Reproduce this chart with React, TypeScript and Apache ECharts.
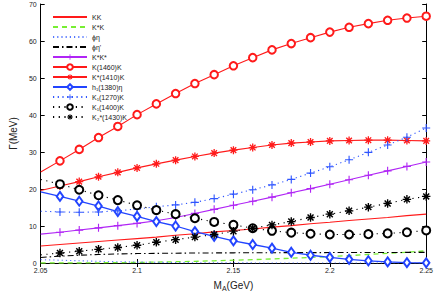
import React, { useEffect, useRef } from "react";
import * as echarts from "echarts";

const xs = [2.05, 2.06, 2.07, 2.08, 2.09, 2.1, 2.11, 2.12, 2.13, 2.14, 2.15, 2.16, 2.17, 2.18, 2.19, 2.2, 2.21, 2.22, 2.23, 2.24, 2.25];

const kk = [4.6, 5.0, 5.4, 5.8, 6.2, 6.6, 7.0, 7.5, 7.9, 8.4, 8.8, 9.2, 9.7, 10.1, 10.6, 11.0, 11.5, 11.9, 12.3, 12.8, 13.2];
const kstarK = [0, 0, 0, 0.05, 0.1, 0.15, 0.25, 0.35, 0.45, 0.6, 0.75, 0.9, 1.1, 1.3, 1.5, 1.75, 2.0, 2.3, 2.6, 2.9, 3.3];
const phiEta = [0.9, 0.75, 0.6, 0.45, 0.35, 0.25, 0.18, 0.12, 0.08, 0.05, 0.03, 0.02, 0.01, 0, 0, 0, 0, 0, 0, 0, 0];
const phiEtaP = [1.5, 1.85, 2.1, 2.3, 2.45, 2.55, 2.6, 2.65, 2.7, 2.72, 2.75, 2.77, 2.78, 2.8, 2.8, 2.82, 2.83, 2.84, 2.85, 2.86, 2.87];
const kstarKstar = [7.8, 8.3, 8.9, 9.5, 10.1, 10.7, 11.4, 12.3, 13.4, 14.5, 15.6, 16.7, 17.8, 19.0, 20.1, 21.3, 22.5, 23.7, 24.9, 26.1, 27.3];
const k1460 = [24.6, 27.6, 30.7, 33.9, 36.9, 40.1, 43.0, 45.8, 48.5, 50.9, 53.3, 55.5, 57.6, 59.3, 60.9, 62.4, 63.7, 64.7, 65.6, 66.2, 66.7];
const k1410 = [19.6, 20.8, 22.0, 23.3, 24.5, 25.7, 26.8, 27.8, 28.8, 29.7, 30.5, 31.2, 31.9, 32.4, 32.7, 33.0, 33.1, 33.2, 33.2, 33.1, 33.0];
const h1380 = [19.2, 18.0, 16.7, 15.4, 13.9, 12.6, 11.2, 10.0, 8.5, 7.2, 6.0, 5.0, 4.0, 2.9, 2.1, 1.5, 1.0, 0.6, 0.3, 0.1, 0.05];
const k1270 = [14.0, 13.8, 13.7, 13.8, 14.1, 14.6, 15.2, 15.7, 16.4, 17.4, 18.6, 19.8, 21.1, 22.6, 24.3, 26.0, 27.9, 29.9, 31.9, 34.0, 36.5];
const k1400 = [22.6, 21.3, 19.8, 18.3, 17.0, 15.6, 14.3, 13.2, 12.1, 11.1, 10.3, 9.4, 8.7, 8.2, 7.9, 7.7, 7.7, 7.8, 8.0, 8.3, 8.8];
const k1430 = [2.2, 2.7, 3.2, 3.7, 4.2, 4.8, 5.6, 6.3, 7.0, 7.7, 8.6, 9.4, 10.3, 11.2, 12.3, 13.2, 14.1, 15.1, 16.1, 17.2, 18.0];

const names = ["KK", "K*K", "ϕη", "ϕη'", "K*K*", "K(1460)K", "K*(1410)K", "h₁(1380)η", "K₁(1270)K", "K₁(1400)K", "K₂*(1430)K"];
const yTicks = [0, 10, 20, 30, 40, 50, 60, 70];
const xTickLabels = ["2.05", "2.1", "2.15", "2.2", "2.25"];

const PLUS = "path://M4.3,0H5.7V4.3H10V5.7H5.7V10H4.3V5.7H0V4.3H4.3Z";
const STAR =
  "path://M0,4.2H10V5.8H0Z M4.2,0H5.8V10H4.2Z M2.1,0.9L9.1,7.9L7.9,9.1L0.9,2.1Z M7.9,0.9L9.1,2.1L2.1,9.1L0.9,7.9Z";

function pts(vals: number[], firstNoSymbol: boolean) {
  return vals.map((v, i) =>
    firstNoSymbol && i === 0 ? { value: [xs[i], v], symbol: "none" } : { value: [xs[i], v] }
  );
}

export default function App() {
  const ref = useRef<HTMLDivElement>(null);
  useEffect(() => {
    if (!ref.current) return;
    const chart = echarts.init(ref.current, null, { renderer: "svg" });
    const font = "Liberation Sans";
    const mk = (
      name: string,
      vals: number[],
      color: string,
      lineType: any,
      symbol: string,
      symbolSize: any,
      width: number,
      border: number
    ) => ({
      name,
      type: "line",
      data: pts(vals, symbol !== "none"),
      symbol,
      symbolSize,
      showAllSymbol: true,
      smooth: false,
      lineStyle: { color, type: lineType, width },
      itemStyle: { color, borderColor: color, borderWidth: border },
      emphasis: { disabled: true },
      z: 3,
    });
    const series = [
      mk(names[0], kk, "#ff1a1a", "solid", "none", 0, 1.1, 0),
      mk(names[1], kstarK, "#77ee33", [5, 4], "none", 0, 1.3, 0),
      mk(names[2], phiEta, "#5577ff", [1.2, 3], "none", 0, 1.1, 0),
      mk(names[3], phiEtaP, "#000000", [6, 3, 1.5, 3], "none", 0, 1.1, 0),
      mk(names[4], kstarKstar, "#b025f5", "solid", PLUS, 8, 1.1, 0),
      mk(names[5], k1460, "#ff1a1a", "solid", "emptyCircle", 7.5, 1.1, 0.9),
      mk(names[6], k1410, "#ff1a1a", "solid", STAR, 8, 1.1, 0),
      mk(names[7], h1380, "#2244ff", "solid", "emptyDiamond", [6.5, 9], 1.3, 0.9),
      mk(names[8], k1270, "#2f55ff", [1.2, 3.5], PLUS, 8, 1.1, 0),
      mk(names[9], k1400, "#000000", [1.2, 4.5], "emptyCircle", 8, 1.1, 1.2),
      mk(names[10], k1430, "#000000", [1.2, 4.5], STAR, 8.5, 1.1, 0),
    ];
    const noMarker = new Set([names[0], names[1], names[2], names[3]]);
    const axisLine = { show: true, lineStyle: { color: "#000", width: 1 } };
    chart.setOption({
      animation: false,
      backgroundColor: "#fff",
      textStyle: { fontFamily: font },
      grid: { left: 28, right: 7, top: 4, bottom: 29, containLabel: false },
      legend: {
        orient: "vertical",
        left: 47,
        top: 8,
        itemWidth: 34,
        itemHeight: 7,
        itemGap: 2.0,
        data: names.map((n) => (noMarker.has(n) ? { name: n, itemStyle: { opacity: 0 } } : { name: n })),
        textStyle: { fontSize: 7, color: "#222", fontFamily: font, lineHeight: 8 },
        selectedMode: false,
      },
      xAxis: [
        {
          type: "value",
          min: 2.05,
          max: 2.25,
          interval: 0.05,
          name: "M{s|A}(GeV)",
          nameLocation: "middle",
          nameGap: 16,
          nameTextStyle: {
            fontSize: 10,
            color: "#222",
            fontFamily: font,
            rich: { s: { fontSize: 7, verticalAlign: "bottom", padding: [6, 0, 0, 0], color: "#222" } },
          },
          axisLine,
          axisTick: { show: true, inside: true, length: 4, lineStyle: { color: "#000" } },
          axisLabel: {
            fontSize: 7,
            color: "#222",
            margin: 4,
            formatter: (v: number) => {
              const i = Math.round((v - 2.05) / 0.05);
              return xTickLabels[i] ?? "";
            },
          },
          splitLine: { show: false },
        },
        {
          type: "value",
          position: "top",
          min: 2.05,
          max: 2.25,
          interval: 0.05,
          axisLine,
          axisTick: { show: true, inside: true, length: 4, lineStyle: { color: "#000" } },
          axisLabel: { show: false },
          splitLine: { show: false },
        },
      ],
      yAxis: [
        {
          type: "value",
          min: 0,
          max: 70,
          interval: 10,
          name: "Γ(MeV)",
          nameLocation: "middle",
          nameGap: 20,
          nameTextStyle: { fontSize: 10, color: "#222", fontFamily: font },
          axisLine,
          axisTick: { show: true, inside: true, length: 4, lineStyle: { color: "#000" } },
          axisLabel: {
            fontSize: 7,
            color: "#222",
            margin: 4,
            formatter: (v: number) => String(yTicks[Math.round(v / 10)] ?? v),
          },
          splitLine: { show: false },
        },
        {
          type: "value",
          position: "right",
          min: 0,
          max: 70,
          interval: 10,
          axisLine,
          axisTick: { show: true, inside: true, length: 4, lineStyle: { color: "#000" } },
          axisLabel: { show: false },
          splitLine: { show: false },
        },
      ],
      series,
    });
    return () => chart.dispose();
  }, []);
  return <div ref={ref} style={{ width: 436, height: 297, position: "absolute", left: 0, top: 0 }} />;
}
